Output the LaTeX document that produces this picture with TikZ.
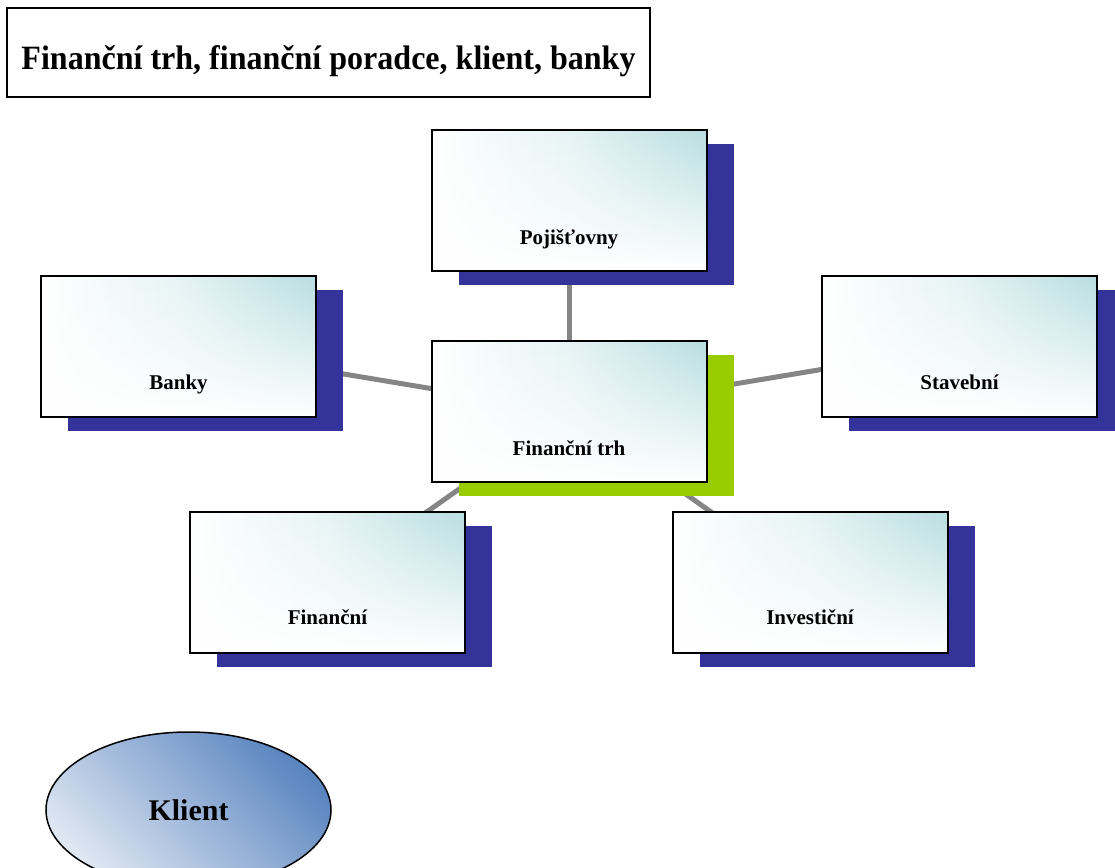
\documentclass[tikz,border=0pt]{standalone}
\usepackage{fontspec}
\setmainfont{Liberation Serif}
\usetikzlibrary{shapes.geometric,shadows,fadings}
\definecolor{tealc}{HTML}{B8DEE1}
\definecolor{shblue}{HTML}{333399}
\definecolor{shgreen}{HTML}{99CC00}
\definecolor{conn}{HTML}{858585}
\definecolor{elldark}{HTML}{5A85C0}
\definecolor{elllight}{HTML}{DFE7F2}
\tikzfading[name=gfade, top color=transparent!100, middle color=transparent!65, bottom color=transparent!0]
\pgfdeclarelayer{background}
\pgfsetlayers{background,main}
\tikzset{
  gbox/.style={draw=black, line width=2pt, minimum width=275pt, minimum height=141pt, inner sep=0pt,
    path picture={
      \shade[left color=white, right color=tealc, middle color=tealc!35]
        (path picture bounding box.south west) rectangle (path picture bounding box.north east);
      \fill[white, path fading=gfade]
        (path picture bounding box.south west) rectangle (path picture bounding box.north east);
    }},
  blueshadow/.style={general shadow={shadow xshift=27pt, shadow yshift=-14pt, fill=shblue}},
  greenshadow/.style={general shadow={shadow xshift=27pt, shadow yshift=-14pt, fill=shgreen}},
  lbl/.style={anchor=base, font=\fontsize{21}{24}\selectfont\bfseries, inner sep=0pt},
  link/.style={draw=conn, line width=5pt},
}
\begin{document}
\begin{tikzpicture}[x=1pt,y=-1pt]
\useasboundingbox (0,0) rectangle (1115,867);
\clip (0,0) rectangle (1115,867);
% title
\node[draw=black, line width=2pt, minimum width=643pt, minimum height=89pt, inner sep=0pt,
      text height=33pt, text depth=0pt] (title) at (328.5,52.5)
  {\resizebox{614pt}{24pt}{\bfseries Finanční trh, finanční poradce, klient, banky}};
% boxes
\node[gbox, blueshadow] (poj) at (569,200.5) {};
\node[gbox, blueshadow] (banky) at (178.5,346.5) {};
\node[gbox, blueshadow] (stav) at (959.5,346.5) {};
\node[gbox, greenshadow] (trh) at (569,411.5) {};
\node[gbox, blueshadow] (fin) at (327.5,582) {};
\node[gbox, blueshadow] (inv) at (810,582) {};
% labels
\node[lbl] (lpoj) at (569,244) {Pojišťovny};
\node[lbl] (lbanky) at (178.5,389) {Banky};
\node[lbl] (lstav) at (959.5,389) {Stavební};
\node[lbl] (ltrh) at (569,455) {Finanční trh};
\node[lbl] (lfin) at (327.5,624) {Finanční};
\node[lbl] (linv) at (810,624) {Investiční};
% connectors
\begin{pgfonlayer}{background}
\draw[link] (trh.center) -- (poj.center);
\draw[link] (trh.center) -- (banky.center);
\draw[link] (trh.center) -- (stav.center);
\draw[link] (trh.center) -- (fin.center);
\draw[link] (trh.center) -- (inv.center);
\end{pgfonlayer}
% client
\node[ellipse, draw=black, line width=1.5pt, minimum width=285pt, minimum height=156pt,
      shade, top color=elldark, bottom color=elllight, shading angle=-45,
      font=\fontsize{30}{34}\selectfont\bfseries] (klient) at (188.5,810) {Klient};
\end{tikzpicture}
\end{document}
